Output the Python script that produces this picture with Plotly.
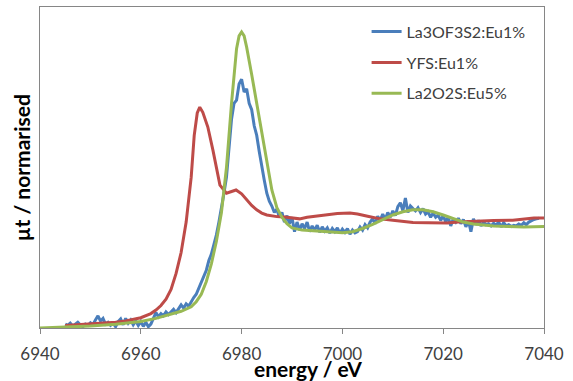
import plotly.graph_objects as go

# ---- data (y in normalised arbitrary units) ----
blue_name = "La3OF3S2:Eu1%"
red_name = "YFS:Eu1%"
green_name = "La2O2S:Eu5%"

blue_e = [6945.0, 6945.5, 6946.0, 6946.5, 6947.0, 6947.5, 6948.0, 6948.5, 6949.0, 6949.5,
          6950.0, 6950.5, 6951.0, 6951.5, 6952.0, 6952.5, 6953.0, 6953.5, 6954.0, 6954.5,
          6955.0, 6955.5, 6956.0, 6956.5, 6957.0, 6957.5, 6958.0, 6958.5, 6959.0, 6959.5,
          6960.0, 6960.5, 6961.0, 6961.5, 6962.0, 6962.5, 6963.0, 6963.5, 6964.0, 6964.5,
          6965.0, 6965.5, 6966.0, 6966.5, 6967.0, 6967.5, 6968.0, 6968.5, 6969.0, 6969.5,
          6970.0, 6970.5, 6971.0, 6971.5, 6972.0, 6972.5, 6973.0, 6973.5, 6974.0, 6974.5,
          6975.0, 6975.5, 6976.0, 6976.5, 6977.0, 6977.5, 6978.0, 6978.5, 6979.0, 6979.5,
          6980.0, 6980.5, 6981.0, 6981.5, 6982.0, 6982.5, 6983.0, 6983.5, 6984.0, 6984.5,
          6985.0, 6985.5, 6986.0, 6986.5, 6987.0, 6987.5, 6988.0, 6988.5, 6989.0, 6989.5,
          6990.0, 6990.5, 6991.0, 6991.5, 6992.0, 6992.5, 6993.0, 6993.5, 6994.0, 6994.5,
          6995.0, 6995.5, 6996.0, 6996.5, 6997.0, 6997.5, 6998.0, 6998.5, 6999.0, 6999.5,
          7000.0, 7000.5, 7001.0, 7001.5, 7002.0, 7002.5, 7003.0, 7003.5, 7004.0, 7004.5,
          7005.0, 7005.5, 7006.0, 7006.5, 7007.0, 7007.5, 7008.0, 7008.5, 7009.0, 7009.5,
          7010.0, 7010.5, 7011.0, 7011.5, 7012.0, 7012.5, 7013.0, 7013.5, 7014.0, 7014.5,
          7015.0, 7015.5, 7016.0, 7016.5, 7017.0, 7017.5, 7018.0, 7018.5, 7019.0, 7019.5,
          7020.0, 7020.5, 7021.0, 7021.5, 7022.0, 7022.5, 7023.0, 7023.5, 7024.0, 7024.5,
          7025.0, 7025.5, 7026.0, 7026.5, 7027.0, 7027.5, 7028.0, 7028.5, 7029.0, 7029.5,
          7030.0, 7030.5, 7031.0, 7031.5, 7032.0, 7032.5, 7033.0, 7033.5, 7034.0, 7034.5,
          7035.0, 7035.5, 7036.0, 7036.5, 7037.0, 7037.5, 7038.0, 7038.5, 7039.0]
blue_v = [0.012, 0.008, 0.015, 0.006, 0.012, 0.018, 0.010, 0.004, 0.012, 0.008,
          0.016, 0.010, 0.025, 0.038, 0.022, 0.030, 0.012, 0.018, 0.008, 0.015,
          0.004, 0.020, 0.028, 0.010, 0.030, 0.015, 0.025, 0.010, 0.022, 0.008,
          0.020, 0.005, 0.018, 0.004, 0.012, 0.030, 0.048, 0.035, 0.045, 0.038,
          0.050, 0.042, 0.050, 0.058, 0.048, 0.060, 0.072, 0.062, 0.075, 0.068,
          0.082, 0.095, 0.105, 0.125, 0.140, 0.165, 0.180, 0.210, 0.230, 0.260,
          0.290, 0.330, 0.370, 0.420, 0.470, 0.560, 0.650, 0.700, 0.710, 0.760,
          0.775, 0.735, 0.745, 0.700, 0.680, 0.630, 0.600, 0.550, 0.500, 0.460,
          0.420, 0.395, 0.380, 0.360, 0.370, 0.345, 0.360, 0.330, 0.350, 0.325,
          0.345, 0.300, 0.330, 0.305, 0.325, 0.310, 0.330, 0.300, 0.318, 0.305,
          0.320, 0.298, 0.315, 0.302, 0.312, 0.296, 0.310, 0.300, 0.312, 0.295,
          0.308, 0.298, 0.310, 0.292, 0.305, 0.296, 0.300, 0.315, 0.305, 0.322,
          0.312, 0.330, 0.340, 0.325, 0.348, 0.335, 0.355, 0.338, 0.360, 0.345,
          0.365, 0.350, 0.378, 0.390, 0.365, 0.405, 0.360, 0.380, 0.372, 0.365,
          0.375, 0.360, 0.372, 0.355, 0.362, 0.345, 0.358, 0.345, 0.352, 0.335,
          0.350, 0.330, 0.345, 0.318, 0.340, 0.330, 0.342, 0.325, 0.338, 0.315,
          0.335, 0.300, 0.340, 0.322, 0.335, 0.318, 0.330, 0.322, 0.325, 0.318,
          0.326, 0.320, 0.330, 0.315, 0.328, 0.318, 0.322, 0.316, 0.320, 0.318,
          0.324, 0.320, 0.328, 0.322, 0.330, 0.335, 0.338, 0.340, 0.342]

red_e = [6945, 6947, 6949, 6951, 6953, 6955, 6957, 6958, 6960, 6962, 6963, 6964, 6965,
         6966, 6967, 6968, 6969, 6970, 6970.6, 6971.2, 6971.7, 6972.3, 6973.3, 6974.3,
         6975.0, 6975.7, 6977.0, 6978.0, 6978.9, 6980.0, 6981.0, 6982.0, 6983.0, 6984.0,
         6985.0, 6987.0, 6989.0, 6991.5, 6993.0, 6996.0, 6999.0, 7001.5, 7003.0, 7005.0,
         7007.5, 7010.0, 7012.0, 7014.0, 7017.0, 7020.8, 7023.0, 7026.0, 7030.0, 7033.8,
         7036.0, 7038.0, 7040.0]
red_v = [0.008, 0.010, 0.011, 0.012, 0.014, 0.018, 0.022, 0.025, 0.032, 0.045, 0.056,
         0.070, 0.090, 0.120, 0.170, 0.235, 0.330, 0.470, 0.600, 0.670, 0.688, 0.672,
         0.626, 0.555, 0.500, 0.445, 0.420, 0.425, 0.430, 0.418, 0.400, 0.382, 0.368,
         0.358, 0.352, 0.347, 0.345, 0.340, 0.345, 0.352, 0.357, 0.358, 0.355, 0.348,
         0.340, 0.336, 0.333, 0.329, 0.328, 0.327, 0.330, 0.333, 0.335, 0.336, 0.340,
         0.343, 0.343]

green_e = [6940, 6945, 6950, 6955, 6960, 6963, 6966, 6968, 6970, 6971, 6972, 6973, 6974,
           6975, 6976, 6977, 6978, 6979, 6979.5, 6980, 6980.5, 6981, 6982, 6983, 6984,
           6985, 6986, 6987, 6988, 6989, 6990, 6992, 6994, 6996, 6998, 7000, 7002, 7004,
           7006, 7008, 7010, 7012, 7014, 7016, 7018, 7020, 7022, 7024, 7026, 7028, 7030,
           7033, 7036, 7040]
green_v = [0.000, 0.002, 0.006, 0.012, 0.020, 0.030, 0.042, 0.052, 0.066, 0.082, 0.105,
           0.145, 0.200, 0.270, 0.360, 0.500, 0.700, 0.870, 0.910, 0.922, 0.910, 0.875,
           0.790, 0.700, 0.610, 0.510, 0.430, 0.375, 0.345, 0.325, 0.312, 0.305, 0.303,
           0.302, 0.300, 0.297, 0.300, 0.310, 0.323, 0.338, 0.352, 0.362, 0.368, 0.368,
           0.362, 0.352, 0.340, 0.330, 0.324, 0.320, 0.318, 0.316, 0.315, 0.316]

x_ticks = [6940, 6960, 6980, 7000, 7020, 7040]
x_title = "energy / eV"
y_title = "µt / normarised"

BLUE = "#4A7EBB"
RED = "#BE4B48"
GREEN = "#98B954"
AXIS = "#868686"
FONT = "Lato, 'Open Sans', sans-serif"

fig = go.Figure()
for name, xs, ys, col in [(blue_name, blue_e, blue_v, BLUE),
                          (red_name, red_e, red_v, RED),
                          (green_name, green_e, green_v, GREEN)]:
    fig.add_trace(go.Scatter(x=xs, y=ys, mode="lines", name=name, legendgroup=name,
                             line=dict(color=col, width=3)))

fig.update_layout(
    width=573, height=381,
    margin=dict(l=40, r=29, t=7, b=53),
    paper_bgcolor="white", plot_bgcolor="white",
    font=dict(family=FONT, color="#404040"),
    showlegend=True,
    legend=dict(x=0.648, y=0.976, xanchor="left", yanchor="top",
                bgcolor="rgba(0,0,0,0)", borderwidth=0,
                font=dict(size=16, color="#404040", family=FONT),
                traceorder="grouped", tracegroupgap=7),
    xaxis=dict(range=[6940, 7040], tickvals=x_ticks, ticktext=[str(t) for t in x_ticks],
               showgrid=False, zeroline=False, showline=True, linecolor=AXIS, linewidth=1,
               mirror=True, ticks="outside", ticklen=5, tickcolor=AXIS,
               ticklabelstandoff=6,
               tickfont=dict(size=17, color="#404040", family=FONT)),
    yaxis=dict(range=[0, 1], showgrid=False, zeroline=False, showline=True, linecolor=AXIS,
               linewidth=1, mirror=True, ticks="", showticklabels=False),
    annotations=[
        dict(text=x_title, xref="paper", yref="paper", x=0.532, y=-0.127,
             xanchor="center", yanchor="middle", showarrow=False,
             font=dict(size=21, color="#000000", family=FONT, weight="bold")),
        dict(text=y_title, xref="paper", yref="paper", x=-0.036, y=0.50,
             xanchor="center", yanchor="middle", showarrow=False, textangle=-90,
             font=dict(size=21, color="#000000", family=FONT, weight="bold")),
    ],
)

fig.write_html("out.html", config={"displayModeBar": False},
               post_script="document.body.style.margin='0';document.body.style.overflow='hidden';")
